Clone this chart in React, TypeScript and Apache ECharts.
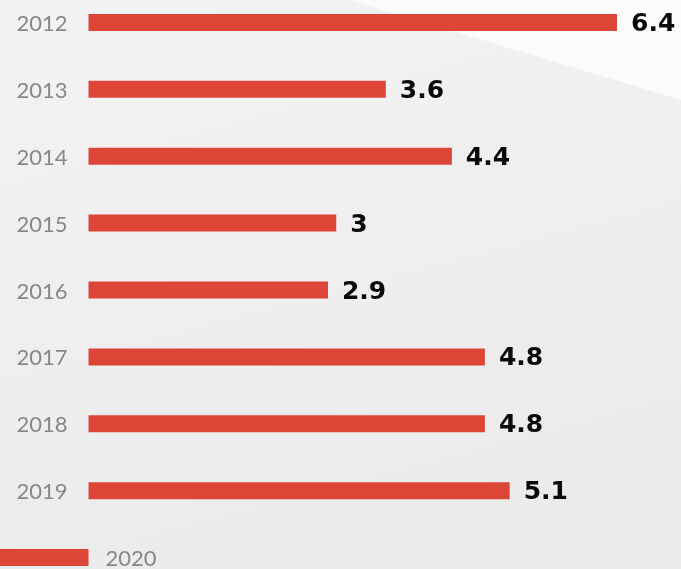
import React, { useEffect, useRef } from "react";
import * as echarts from "echarts";

const categories = ["2012", "2013", "2014", "2015", "2016", "2017", "2018", "2019", "2020"];
const values = [6.4, 3.6, 4.4, 3, 2.9, 4.8, 4.8, 5.1, -1.2];
const labelBase = [0, 0, 0, 0, 0, 0, 0, 0, 0];

const OFFSET = 11;

export default function App() {
  const ref = useRef<HTMLDivElement>(null);
  useEffect(() => {
    if (!ref.current) return;
    const chart = echarts.init(ref.current, null, { renderer: "svg" });
    const n = categories.length;
    chart.setOption({
      animation: false,
      backgroundColor: "transparent",
      graphic: [
        {
          type: "rect",
          z: -10,
          silent: true,
          shape: { x: 0, y: 0, width: 681, height: 602 },
          style: {
            fill: new echarts.graphic.LinearGradient(0, 0, 0.3, 1, [
              { offset: 0, color: "#f3f3f3" },
              { offset: 1, color: "#ebebeb" },
            ]),
          },
        },
        {
          type: "polygon",
          z: -9,
          silent: true,
          shape: { points: [[350, OFFSET], [681, OFFSET], [681, 100 + OFFSET]] },
          style: { fill: "#fbfbfb" },
        },
      ],
      grid: { left: 0, right: 0, top: 0, bottom: 0, containLabel: false },
      xAxis: {
        type: "value",
        min: -1.0717,
        max: 7.175,
        show: false,
        splitLine: { show: false },
      },
      yAxis: {
        type: "category",
        data: categories,
        inverse: true,
        show: false,
      },
      series: [
        {
          type: "bar",
          name: "value",
          data: values.map((v, i) => ({
            value: v,
            label: { show: i < n - 1 },
          })),
          barWidth: 17,
          barGap: "-100%",
          z: 3,
          itemStyle: { color: "#dd4536" },
          label: {
            show: true,
            position: "right",
            distance: 14,
            formatter: "{c}",
            color: "#0a0a0a",
            fontFamily: "DejaVu Sans",
            fontWeight: "bold",
            fontSize: 25,
          },
        },
        {
          type: "bar",
          name: "labels",
          data: labelBase.map((v, i) => ({
            value: v,
            label:
              i === n - 1
                ? { position: "right", distance: 17 }
                : { position: "left", distance: 21 },
          })),
          barWidth: 17,
          barGap: "-100%",
          silent: true,
          itemStyle: { color: "rgba(0,0,0,0)" },
          label: {
            show: true,
            formatter: "{b}",
            color: "#878787",
            fontFamily: "Lato",
            fontSize: 22,
          },
        },
      ],
    });
    return () => chart.dispose();
  }, []);
  return (
    <div
      style={{
        position: "fixed",
        left: 0,
        top: 0,
        width: 681,
        height: 569,
        overflow: "hidden",
      }}
    >
      <div
        ref={ref}
        style={{ position: "absolute", left: 0, top: -OFFSET, width: 681, height: 602 }}
      />
    </div>
  );
}
